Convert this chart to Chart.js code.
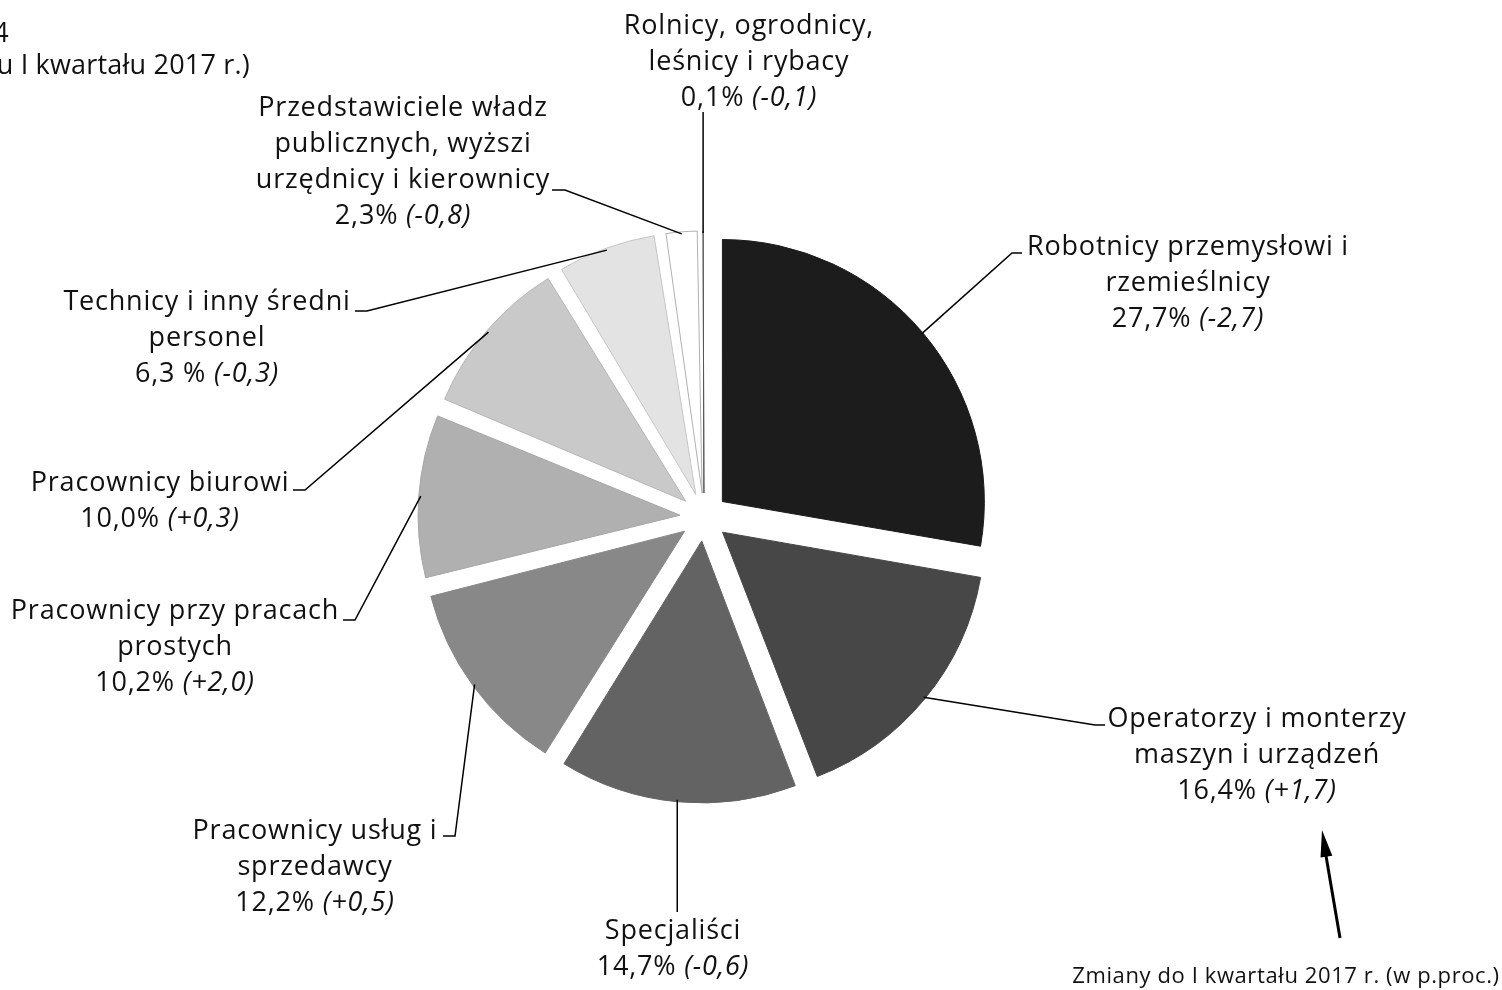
<!DOCTYPE html>
<html lang="pl">
<head>
<meta charset="utf-8">
<script src="https://cdn.jsdelivr.net/npm/chart.js@4.4.1/dist/chart.umd.min.js"></script>
<style>
  html, body { margin: 0; padding: 0; background: #fff; }
  #wrap { width: 1502px; height: 990px; }
</style>
</head>
<body>
<div id="wrap"><canvas id="chart" width="1502" height="990"></canvas></div>
<script>
// dane
const categories = [
    'Robotnicy przemysłowi i rzemieślnicy',
    'Operatorzy i monterzy maszyn i urządzeń',
    'Specjaliści',
    'Pracownicy usług i sprzedawcy',
    'Pracownicy przy pracach prostych',
    'Pracownicy biurowi',
    'Technicy i inny średni personel',
    'Przedstawiciele władz publicznych, wyżsi urzędnicy i kierownicy',
    'Rolnicy, ogrodnicy, leśnicy i rybacy'
];
const labelLines = [
    ['Robotnicy przemysłowi i', 'rzemieślnicy'],
    ['Operatorzy i monterzy', 'maszyn i urządzeń'],
    ['Specjaliści'],
    ['Pracownicy usług i', 'sprzedawcy'],
    ['Pracownicy przy pracach', 'prostych'],
    ['Pracownicy biurowi'],
    ['Technicy i inny średni', 'personel'],
    ['Przedstawiciele władz', 'publicznych, wyższi', 'urzędnicy i kierownicy'],
    ['Rolnicy, ogrodnicy,', 'leśnicy i rybacy']
];
const shares = [27.7, 16.4, 14.7, 12.2, 10.2, 10.0, 6.3, 2.3, 0.1];
const changes = [-2.7, 1.7, -0.6, 0.5, 2.0, 0.3, -0.3, -0.8, -0.1];

const colors = ['#1c1c1c', '#474747', '#636363', '#888888', '#b0b0b0', '#c9c9c9', '#e3e3e3', '#ffffff', '#ffffff'];
const borders = ['#1c1c1c', '#474747', '#636363', '#888888', '#a6a6a6', '#b5b5b5', '#c6c6c6', '#b0b0b0', '#555555'];

// rozmieszczenie opisów: środek tekstu, y pierwszej linii, załamanie i koniec linii odniesienia
// (ex = null -> pionowa linia nad/pod wycinkiem)
const labelPlace = [
    { cx: 1188, y: 246, ex: 1012, ey: 253, tx: 1022 },
    { cx: 1257, y: 718, ex: 1095, ey: 725, tx: 1105 },
    { cx: 673,  y: 930, ex: null, ey: 912, tx: null },
    { cx: 315,  y: 830, ex: 455,  ey: 836, tx: 443 },
    { cx: 175,  y: 610, ex: 355,  ey: 620, tx: 343 },
    { cx: 160,  y: 482, ex: 305,  ey: 490, tx: 293 },
    { cx: 207,  y: 301, ex: 367,  ey: 311, tx: 355 },
    { cx: 403,  y: 107, ex: 565,  ey: 190, tx: 552 },
    { cx: 749,  y: 25,  ex: null, ey: 112, tx: null }
];

const FONT = '"Open Sans", "Noto Sans", sans-serif';
const FS = 27;
const SPACING = '0.8px';
const LINE_H = 36;
const RADIUS = 262;
const EXPLODE = 24;

const fmt = v => v.toFixed(1).replace('.', ',');

const pieLabels = {
    id: 'pieLabels',
    beforeDatasetsDraw(chart) {
        // równe wysunięcie wycinków, bez powiększania promienia małych
        chart.getDatasetMeta(0).data.forEach(arc => {
            const circ = arc.endAngle - arc.startAngle;
            const fix = 1 - Math.sin(Math.min(Math.PI, circ));
            arc.outerRadius = RADIUS - EXPLODE * fix;
        });
    },
    afterDraw(chart) {
        const ctx = chart.ctx;
        const arcs = chart.getDatasetMeta(0).data;
        ctx.save();

        // linie odniesienia
        ctx.strokeStyle = '#000';
        ctx.lineWidth = 1.5;
        arcs.forEach((arc, i) => {
            const p = labelPlace[i];
            const mid = (arc.startAngle + arc.endAngle) / 2;
            const r = EXPLODE + RADIUS - 2;
            const sx = arc.x + Math.cos(mid) * r;
            const sy = arc.y + Math.sin(mid) * r;
            ctx.beginPath();
            ctx.moveTo(sx, sy);
            if (p.ex === null) {
                ctx.lineTo(sx, p.ey);
            } else {
                ctx.lineTo(p.ex, p.ey);
                ctx.lineTo(p.tx, p.ey);
            }
            ctx.stroke();
        });

        // opisy
        ctx.fillStyle = '#111';
        ctx.textBaseline = 'alphabetic';
        ctx.letterSpacing = SPACING;
        labelLines.forEach((lines, i) => {
            const p = labelPlace[i];
            ctx.font = `${FS}px ${FONT}`;
            ctx.textAlign = 'center';
            lines.forEach((t, k) => ctx.fillText(t, p.cx, p.y + 9 + k * LINE_H));
            const a = fmt(shares[i]) + (i === 6 ? ' %' : '%') + ' ';
            const c = changes[i];
            const b = '(' + (c > 0 ? '+' : '-') + fmt(Math.abs(c)) + ')';
            ctx.font = `${FS}px ${FONT}`;
            const wa = ctx.measureText(a).width;
            ctx.font = `italic ${FS}px ${FONT}`;
            const wb = ctx.measureText(b).width;
            const y = p.y + 9 + lines.length * LINE_H;
            const x = p.cx - (wa + wb) / 2;
            ctx.textAlign = 'left';
            ctx.font = `${FS}px ${FONT}`;
            ctx.fillText(a, x, y);
            ctx.font = `italic ${FS}px ${FONT}`;
            ctx.fillText(b, x + wa, y);
        });

        // ucięty tytuł w lewym górnym rogu
        ctx.font = `${FS}px ${FONT}`;
        ctx.letterSpacing = '0.2px';
        ctx.textAlign = 'right';
        ctx.fillText('Wykres 4', 9, 42);
        ctx.fillText('(w porównaniu do stanu z końcu I kwartału 2017 r.)', 250, 74);

        // strzałka i przypis
        ctx.lineWidth = 3;
        ctx.beginPath();
        ctx.moveTo(1340, 938);
        ctx.lineTo(1325, 850);
        ctx.stroke();
        const ang = Math.atan2(830 - 938, 1322 - 1340);
        ctx.beginPath();
        ctx.moveTo(1322, 830);
        ctx.lineTo(1322 - 27 * Math.cos(ang) + 6 * Math.sin(ang), 830 - 27 * Math.sin(ang) - 6 * Math.cos(ang));
        ctx.lineTo(1322 - 27 * Math.cos(ang) - 6 * Math.sin(ang), 830 - 27 * Math.sin(ang) + 6 * Math.cos(ang));
        ctx.closePath();
        ctx.fillStyle = '#000';
        ctx.fill();

        ctx.fillStyle = '#111';
        ctx.font = `22px ${FONT}`;
        ctx.letterSpacing = '0.6px';
        ctx.textAlign = 'center';
        ctx.fillText('Zmiany do I kwartału 2017 r. (w p.proc.)', 1286, 983);
        ctx.restore();
    }
};

new Chart(document.getElementById('chart').getContext('2d'), {
    type: 'pie',
    data: {
        labels: categories,
        datasets: [{
            data: shares,
            backgroundColor: colors,
            borderColor: borders,
            borderWidth: 1,
            offset: EXPLODE * 4,
            radius: RADIUS
        }]
    },
    options: {
        responsive: false,
        animation: false,
        events: [],
        layout: { padding: { left: 0, right: 94, top: 44, bottom: 0 } },
        plugins: {
            legend: { display: false },
            tooltip: { enabled: false }
        }
    },
    plugins: [pieLabels]
});
</script>
</body>
</html>
